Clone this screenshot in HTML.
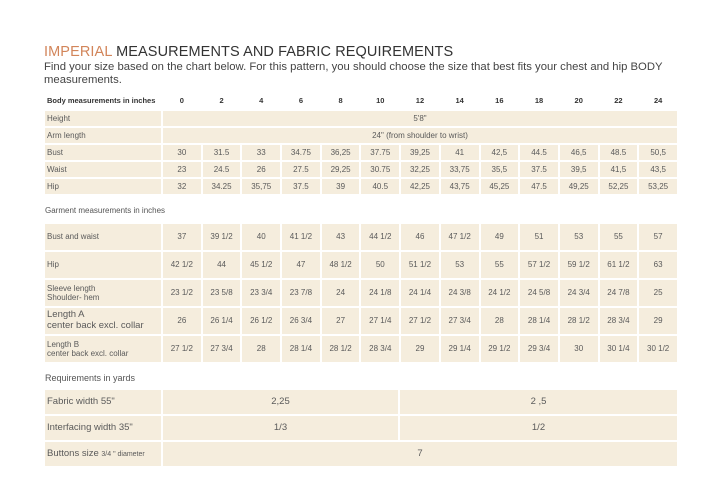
<!DOCTYPE html>
<html><head><meta charset="utf-8"><style>
body{margin:0;width:720px;height:483px;background:#fff;font-family:"Liberation Sans",sans-serif;color:#555;position:relative;overflow:hidden}
.t{position:absolute;left:43px;border-collapse:separate;border-spacing:2px;table-layout:fixed;width:636px}
td{background:#f5eddd;font-size:8px;text-align:center;padding:0;line-height:1.15;white-space:nowrap;color:#5a5a5a}
td.l{text-align:left;padding-left:2px}
tr.h td{background:none;font-weight:bold;color:#333;font-size:7.5px}
.lab{position:absolute;left:45px;font-size:8px;color:#555}
</style></head><body>
<div style="position:absolute;left:44px;top:44px;font-size:14.5px;color:#333;letter-spacing:.1px"><span style="color:#d2855a">IMPERIAL</span> MEASUREMENTS AND FABRIC REQUIREMENTS</div>
<div style="position:absolute;left:44px;top:61px;font-size:11.3px;color:#444;line-height:13px;width:640px">Find your size based on the chart below. For this pattern, you should choose the size that best fits your chest and hip BODY measurements.</div>
<table class="t" style="top:92px">
<colgroup><col style="width:116px"><col span="13"></colgroup>
<tr class="h" style="height:15px"><td class="l">Body measurements in inches</td><td>0</td><td>2</td><td>4</td><td>6</td><td>8</td><td>10</td><td>12</td><td>14</td><td>16</td><td>18</td><td>20</td><td>22</td><td>24</td></tr>
<tr style="height:15px"><td class="l">Height</td><td colspan="13">5'8"</td></tr>
<tr style="height:15px"><td class="l">Arm length</td><td colspan="13">24" (from shoulder to wrist)</td></tr>
<tr style="height:15px"><td class="l">Bust</td><td>30</td><td>31.5</td><td>33</td><td>34.75</td><td>36,25</td><td>37.75</td><td>39,25</td><td>41</td><td>42,5</td><td>44.5</td><td>46,5</td><td>48.5</td><td>50,5</td></tr>
<tr style="height:15px"><td class="l">Waist</td><td>23</td><td>24.5</td><td>26</td><td>27.5</td><td>29,25</td><td>30.75</td><td>32,25</td><td>33,75</td><td>35,5</td><td>37.5</td><td>39,5</td><td>41,5</td><td>43,5</td></tr>
<tr style="height:15px"><td class="l">Hip</td><td>32</td><td>34.25</td><td>35,75</td><td>37.5</td><td>39</td><td>40.5</td><td>42,25</td><td>43,75</td><td>45,25</td><td>47.5</td><td>49,25</td><td>52,25</td><td>53,25</td></tr>
</table>
<div class="lab" style="top:206px">Garment measurements in inches</div>
<table class="t" style="top:222px">
<colgroup><col style="width:116px"><col span="13"></colgroup>
<tr style="height:26px"><td class="l">Bust and waist</td><td>37</td><td>39 1/2</td><td>40</td><td>41 1/2</td><td>43</td><td>44 1/2</td><td>46</td><td>47 1/2</td><td>49</td><td>51</td><td>53</td><td>55</td><td>57</td></tr>
<tr style="height:26px"><td class="l">Hip</td><td>42 1/2</td><td>44</td><td>45 1/2</td><td>47</td><td>48 1/2</td><td>50</td><td>51 1/2</td><td>53</td><td>55</td><td>57 1/2</td><td>59 1/2</td><td>61 1/2</td><td>63</td></tr>
<tr style="height:26px"><td class="l">Sleeve length<br>Shoulder- hem</td><td>23 1/2</td><td>23 5/8</td><td>23 3/4</td><td>23 7/8</td><td>24</td><td>24 1/8</td><td>24 1/4</td><td>24 3/8</td><td>24 1/2</td><td>24 5/8</td><td>24 3/4</td><td>24 7/8</td><td>25</td></tr>
<tr style="height:26px"><td class="l" style="font-size:9.5px">Length A<br>center back excl. collar</td><td>26</td><td>26 1/4</td><td>26 1/2</td><td>26 3/4</td><td>27</td><td>27 1/4</td><td>27 1/2</td><td>27 3/4</td><td>28</td><td>28 1/4</td><td>28 1/2</td><td>28 3/4</td><td>29</td></tr>
<tr style="height:26px"><td class="l">Length B<br>center back excl. collar</td><td>27 1/2</td><td>27 3/4</td><td>28</td><td>28 1/4</td><td>28 1/2</td><td>28 3/4</td><td>29</td><td>29 1/4</td><td>29 1/2</td><td>29 3/4</td><td>30</td><td>30 1/4</td><td>30 1/2</td></tr>
</table>
<div class="lab" style="top:373px;font-size:9px">Requirements in yards</div>
<table class="t" style="top:388px">
<colgroup><col style="width:116px"><col style="width:235px"><col></colgroup>
<tr style="height:24px"><td class="l" style="font-size:9.5px">Fabric width 55"</td><td style="font-size:9.5px">2,25</td><td style="font-size:9.5px">2 ,5</td></tr>
<tr style="height:24px"><td class="l" style="font-size:9.5px">Interfacing width 35"</td><td style="font-size:9.5px">1/3</td><td style="font-size:9.5px">1/2</td></tr>
<tr style="height:24px"><td class="l" style="font-size:9.5px">Buttons size <span style="font-size:7px">3/4 " diameter</span></td><td colspan="2" style="font-size:9.5px">7</td></tr>
</table>
</body></html>
